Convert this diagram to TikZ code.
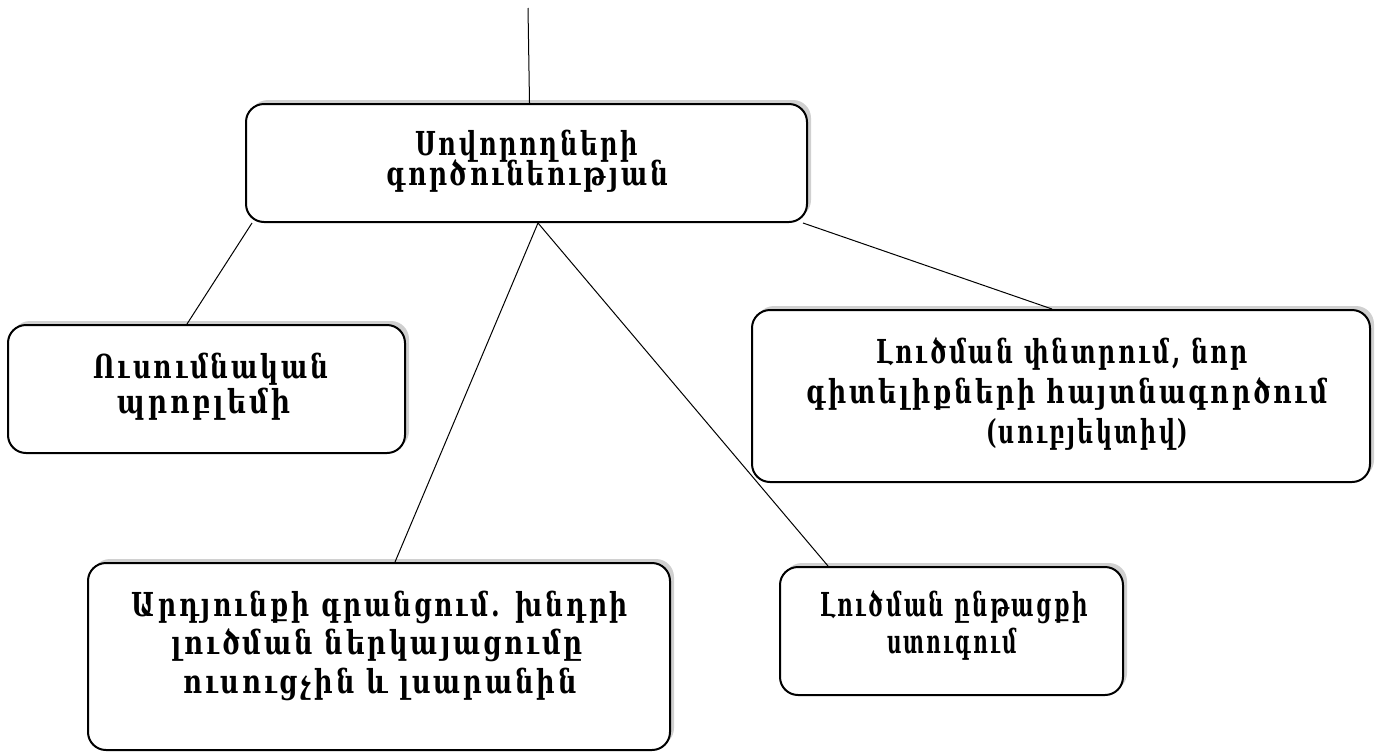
\documentclass[tikz,border=0pt]{standalone}
\usepackage{fontspec}
\usepackage{graphicx}
\usetikzlibrary{shadows}
\newfontfamily\armfont[LetterSpace=10]{DejaVu Serif Condensed}
\newcommand{\armfit}[2]{\resizebox{#1pt}{\height}{#2}}
\tikzset{
  box/.style={draw=black, line width=2pt, rounded corners=18pt, fill=white, inner sep=0pt,
    drop shadow={shadow xshift=4pt, shadow yshift=4pt, opacity=0.3, fill=black!60}},
  txt/.style={anchor=base, inner sep=0pt, font=\armfont\bfseries\fontsize{33}{38}\selectfont},
  conn/.style={draw=black, line width=1pt}
}
\begin{document}
\begin{tikzpicture}[x=1pt,y=-1pt]
\useasboundingbox (0,0) rectangle (1383,753);
\fill[white] (0,0) rectangle (1383,753);
\coordinate (topend) at (528,8);
\node[box, minimum width=561pt, minimum height=118pt] (c) at (526.5,163) {};
\node[box, minimum width=397pt, minimum height=128pt] (l) at (206.5,389) {};
\node[box, minimum width=618pt, minimum height=172pt] (r) at (1061,396) {};
\node[box, minimum width=582pt, minimum height=187pt] (bl) at (379,656.5) {};
\node[box, minimum width=343pt, minimum height=128pt] (br) at (951.5,631) {};
\draw[conn] (topend) -- ([xshift=3pt]c.north);
\draw[conn] ([xshift=7pt]c.south west) -- ([xshift=180pt]l.north west);
\draw[conn] ([xshift=11.5pt]c.south) -- ([xshift=16pt]bl.north);
\draw[conn] ([xshift=11.5pt]c.south) -- ([xshift=-123.5pt]br.north);
\draw[conn] ([xshift=-5pt]c.south east) -- ([xshift=-9pt]r.north);
% centre box
\node[txt] (c1) at (526.5,155) {\armfit{223}{Սովորողների}};
\node[txt] (c2) at (527,185) {\armfit{282}{գործունեության}};
% left box
\node[txt] (l1) at (211,378) {\armfit{235}{Ուսումնական}};
\node[txt] (l2) at (204,413) {\armfit{172}{պրոբլեմի}};
% right box
\node[txt] (r1) at (1062,363) {\armfit{372}{Լուծման փնտրում, նոր}};
\node[txt] (r2) at (1067,403) {\armfit{522}{գիտելիքների հայտնագործում}};
\node[txt] (r3) at (1087,443) {\armfit{202}{(սուբյեկտիվ)}};
% bottom left box
\node[txt] (bl1) at (380,616) {\armfit{496}{Արդյունքի գրանցում. խնդրի}};
\node[txt] (bl2) at (377,654) {\armfit{411}{լուծման ներկայացումը}};
\node[txt] (bl3) at (380,693) {\armfit{393}{ուսուցչին և լսարանին}};
% bottom right box
\node[txt] (br1) at (954,616) {\armfit{268}{Լուծման ընթացքի}};
\node[txt] (br2) at (952,653) {\armfit{130}{ստուգում}};
\end{tikzpicture}
\end{document}
